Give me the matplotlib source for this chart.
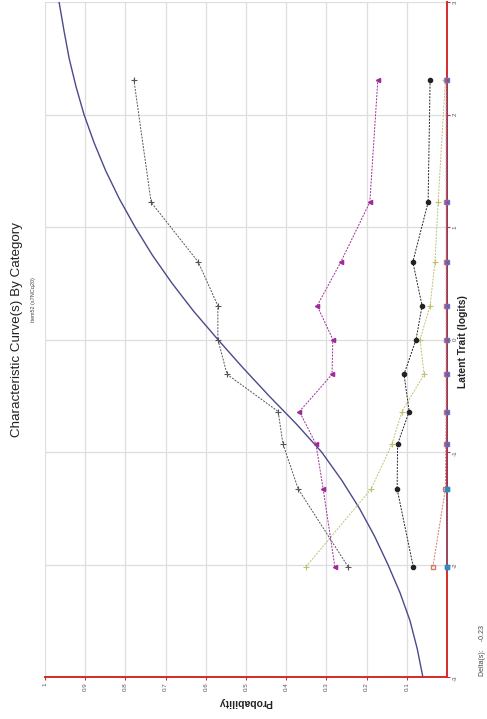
import matplotlib.pyplot as plt
from matplotlib import font_manager

# latent trait (logits) of the observed score groups
group_logits = [-2.02, -1.33, -0.93, -0.64, -0.31, 0.0, 0.30, 0.69, 1.22, 2.31]

obs_gray = [0.246, 0.370, 0.408, 0.420, 0.547, 0.570, 0.570, 0.619, 0.736, 0.779]
obs_purple = [0.279, 0.308, 0.326, 0.367, 0.286, 0.284, 0.323, 0.264, 0.192, 0.172]
obs_black = [0.084, 0.124, 0.123, 0.094, 0.107, 0.077, 0.062, 0.085, 0.047, 0.042]
obs_olive = [0.351, 0.189, 0.137, 0.112, 0.057, 0.067, 0.042, 0.030, 0.022, 0.004]
obs_salmon = [0.035, 0.004, 0.003, 0.002, 0.002, 0.002, 0.002, 0.002, 0.002, 0.002]
obs_blue = [0.001, 0.001, 0.001, 0.001, 0.001, 0.001, 0.001, 0.001, 0.001, 0.001]
obs_teal = [0.001, 0.001]
obs_teal_logits = [-2.02, -1.33]

# model curve
curve_logits = [-3.0, -2.75, -2.5, -2.25, -2.0, -1.75, -1.5, -1.25, -1.0, -0.75,
                -0.5, -0.25, 0.0, 0.25, 0.5, 0.75, 1.0, 1.25, 1.5, 1.75,
                2.0, 2.25, 2.5, 2.75, 3.0]
curve_prob = [0.060, 0.074, 0.092, 0.117, 0.147, 0.180, 0.218, 0.262, 0.312, 0.375,
              0.443, 0.508, 0.570, 0.630, 0.684, 0.733, 0.776, 0.815, 0.849, 0.878,
              0.903, 0.923, 0.940, 0.953, 0.965]

prob_ticks = [0.1, 0.2, 0.3, 0.4, 0.5, 0.6, 0.7, 0.8, 0.9, 1.0]
prob_labels = ['0.1', '0.2', '0.3', '0.4', '0.5', '0.6', '0.7', '0.8', '0.9', '1']
logit_ticks = [-3, -2, -1, 0, 1, 2, 3]
logit_labels = ['-3', '-2', '-1', '0', '1', '2', '3']

names = {f.name for f in font_manager.fontManager.ttflist}
fam = ['Liberation Sans Narrow'] if 'Liberation Sans Narrow' in names else []
fam += ['Liberation Sans', 'DejaVu Sans']
plt.rcParams['font.family'] = fam

W, H = 487, 719
fig = plt.figure(figsize=(W / 100, H / 100), dpi=100)
ax = fig.add_axes([45 / W, 1 - 677 / H, 402 / W, 675 / H])

# chart is drawn turned a quarter turn: probability runs right->left, logits bottom->top
ax.set_xlim(1, 0)
ax.set_ylim(-3, 3)
ax.set_xticks(prob_ticks)
ax.set_xticklabels(prob_labels, rotation=90)
ax.set_yticks(logit_ticks)
ax.set_yticklabels(logit_labels, rotation=90)
ax.yaxis.tick_right()
ax.tick_params(colors='#d42a2a', labelcolor='#555555', labelsize=4.5,
               length=2.5, width=0.8, pad=1.5)
ax.grid(color='#dedede', lw=0.9)
ax.set_axisbelow(True)
for side in ['top', 'left']:
    ax.spines[side].set_visible(False)
for side in ['right', 'bottom']:
    ax.spines[side].set_color('#d42a2a')
    ax.spines[side].set_linewidth(1.4)

ax.plot(curve_prob, curve_logits, color='#4a4a8c', lw=1.0, zorder=3)

dash = (0, (2.0, 1.3))
ax.plot(obs_salmon, group_logits, color='#d07a66', ls=dash, lw=0.7,
        marker='s', ms=3.2, mfc='none', mec='#d07a66', zorder=5, clip_on=False)
ax.plot(obs_blue, group_logits, color='#3b4fb0', ls=dash, lw=0.7,
        marker='s', ms=3.0, mfc='#6a5aa8', mec='#7a6ab8', zorder=5, clip_on=False)
ax.plot(obs_teal, obs_teal_logits, color='#2a7fb8', ls=dash, lw=0.7,
        marker='s', ms=3.0, mfc='#2a8fc0', mec='#2a8fc0', zorder=5, clip_on=False)
ax.plot(obs_olive, group_logits, color='#c0c070', ls=dash, lw=0.7,
        marker='+', ms=4.0, mew=0.8, zorder=4)
ax.plot(obs_black, group_logits, color='#222222', ls=dash, lw=0.7,
        marker='o', ms=3.0, zorder=4)
ax.plot(obs_purple, group_logits, color='#a02a9a', ls=dash, lw=0.7,
        marker='<', ms=3.0, zorder=4)
ax.plot(obs_gray, group_logits, color='#555555', ls=dash, lw=0.7,
        marker='+', ms=4.0, mew=0.8, zorder=4)

fig.text(17 / W, 1 - 330 / H, 'Characteristic Curve(s) By Category',
         rotation=90, fontsize=9.6, ha='center', va='center', color='#222222')
fig.text(33 / W, 1 - 300 / H, 'Item52 (s7NCq20)', rotation=90,
         fontsize=4, ha='center', va='center', color='#444444')
fig.text(245 / W, 1 - 702 / H, 'Probability', rotation=180, fontsize=7.5,
         fontweight='bold', ha='center', va='center', color='#222222')
fig.text(463 / W, 1 - 342 / H, 'Latent Trait (logits)', rotation=90,
         fontsize=7.4, fontweight='bold', ha='center', va='center', color='#222222')
fig.text(482 / W, 1 - 650 / H, 'Delta(s):    -0.23', rotation=90, fontsize=5,
         ha='center', va='center', color='#444444')

fig.savefig('out.png', dpi=100)
